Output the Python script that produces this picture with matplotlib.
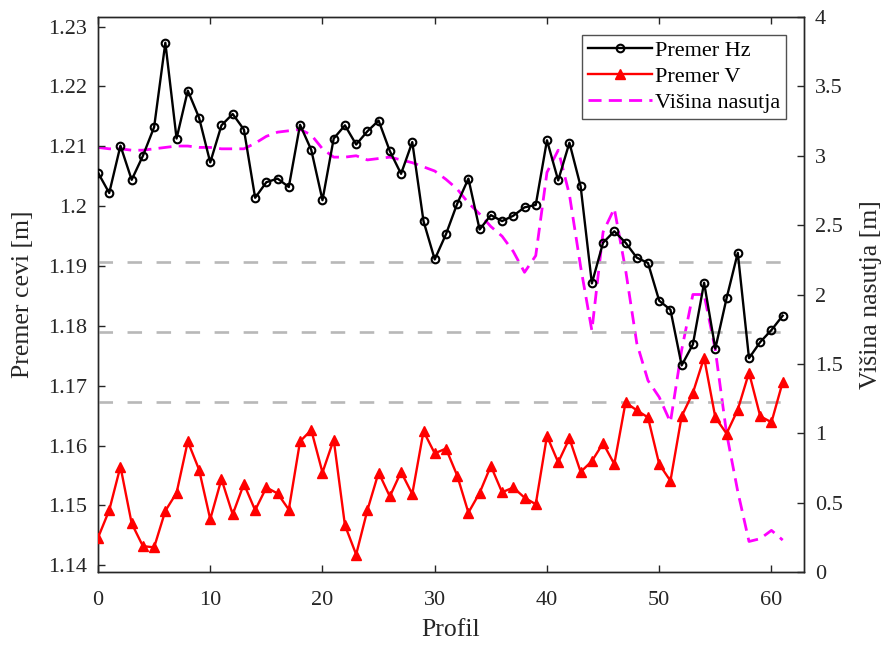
import numpy as np
import matplotlib
matplotlib.use('Agg')
import matplotlib.pyplot as plt
from matplotlib.ticker import FuncFormatter

plt.rcParams['font.family'] = ['Liberation Serif', 'DejaVu Serif']

# profil 0..61
profil = np.arange(62)

premer_hz = [
    1.2056, 1.2022, 1.2101, 1.2044, 1.2084, 1.2132, 1.2273, 1.2113, 1.2193, 1.2148,
    1.2073, 1.2135, 1.2154, 1.2128, 1.2014, 1.2040, 1.2046, 1.2032, 1.2136, 1.2094,
    1.2010, 1.2113, 1.2135, 1.2103, 1.2125, 1.2143, 1.2092, 1.2054, 1.2107, 1.1975,
    1.1911, 1.1953, 1.2004, 1.2046, 1.1961, 1.1985, 1.1975, 1.1984, 1.1998, 1.2002,
    1.2110, 1.2043, 1.2106, 1.2033, 1.1871, 1.1939, 1.1958, 1.1939, 1.1914, 1.1905,
    1.1842, 1.1827, 1.1734, 1.1769, 1.1872, 1.1762, 1.1846, 1.1922, 1.1746, 1.1773,
    1.1793, 1.1817,
]

premer_v = [
    1.1446, 1.1492, 1.1565, 1.1470, 1.1432, 1.1430, 1.1491, 1.1521, 1.1607, 1.1560,
    1.1477, 1.1544, 1.1485, 1.1536, 1.1492, 1.1530, 1.1520, 1.1493, 1.1607, 1.1626,
    1.1555, 1.1610, 1.1467, 1.1418, 1.1492, 1.1555, 1.1515, 1.1556, 1.1519, 1.1624,
    1.1587, 1.1595, 1.1550, 1.1488, 1.1521, 1.1566, 1.1522, 1.1530, 1.1513, 1.1502,
    1.1616, 1.1572, 1.1612, 1.1556, 1.1574, 1.1604, 1.1569, 1.1672, 1.1659, 1.1647,
    1.1569, 1.1541, 1.1649, 1.1688, 1.1747, 1.1647, 1.1620, 1.1660, 1.1722, 1.1649,
    1.1639, 1.1706,
]

visina_nasutja = [
    3.06, 3.05, 3.05, 3.04, 3.04, 3.05, 3.06, 3.07, 3.07, 3.06,
    3.06, 3.05, 3.05, 3.05, 3.09, 3.14, 3.17, 3.18, 3.19, 3.15,
    3.05, 2.99, 2.99, 3.00, 2.97, 2.98, 2.99, 2.97, 2.95, 2.92,
    2.89, 2.83, 2.76, 2.66, 2.58, 2.49, 2.42, 2.31, 2.16, 2.28,
    2.88, 3.04, 2.72, 2.20, 1.74, 2.45, 2.62, 2.18, 1.65, 1.38,
    1.26, 1.08, 1.60, 2.00, 2.00, 1.60, 1.00, 0.58, 0.22, 0.24,
    0.30, 0.23,
]

# mejne vrednosti premera
meje = [1.1907, 1.1790, 1.1672]

fig = plt.figure(figsize=(8.84, 6.45), dpi=100)
ax = fig.add_axes([98 / 884, 1 - 572 / 645, (804 - 98) / 884, (572 - 17) / 645])
ax2 = ax.twinx()

# leva os nad desno, da sta crni in rdeci niz nad magenta crto
ax.set_zorder(ax2.get_zorder() + 1)
ax.patch.set_visible(False)

for m in meje:
    ax.plot([profil[0], profil[-1]], [m, m], color=(0.72, 0.72, 0.72),
            linestyle=(0, (5.5, 5.5)), linewidth=1.9, zorder=1)

l_hz, = ax.plot(profil, premer_hz, color='black', linewidth=1.7, marker='o',
                markersize=5.5, markerfacecolor='none', markeredgecolor='black',
                markeredgewidth=1.5, label='Premer Hz', zorder=3)
l_v, = ax.plot(profil, premer_v, color='red', linewidth=1.7, marker='^',
               markersize=7, markerfacecolor='red', markeredgecolor='red',
               label='Premer V', zorder=3)
l_n, = ax2.plot(profil, visina_nasutja, color=(1, 0, 1), linewidth=2,
                linestyle=(0, (4.7, 2.6)), label='Višina nasutja')

ax.set_xlim(0, 62.9)
ax.set_ylim(1.13888, 1.2316)
ax2.set_ylim(0, 4)

ax.set_xticks(np.arange(0, 61, 10))
ax.set_yticks(np.arange(1.14, 1.2305, 0.01))
ax.yaxis.set_major_formatter(FuncFormatter(lambda v, p: f'{v:.2f}'.rstrip('0')))
ax2.set_yticks(np.arange(0, 4.01, 0.5))
ax2.yaxis.set_major_formatter(FuncFormatter(lambda v, p: f'{v:g}'))

ax.tick_params(axis='x', direction='in', top=True, length=5, width=1,
               labelsize=16, pad=14, colors='#262626')
ax.tick_params(axis='y', direction='in', length=5, width=1, labelsize=16,
               pad=8, colors='#262626')
ax2.tick_params(axis='y', direction='in', length=5, width=1, labelsize=16,
                pad=8, colors='#262626')
ax2.tick_params(axis='x', top=False, bottom=False)

for a in (ax, ax2):
    for s in a.spines.values():
        s.set_color('#262626')
        s.set_linewidth(1)

ax.set_xlabel('Profil', fontsize=18.5, color='#262626', labelpad=6)
ax.set_ylabel('Premer cevi [m]', fontsize=18.5, color='#262626', labelpad=10)
ax2.set_ylabel('Višina nasutja [m]', fontsize=18.5, color='#262626', labelpad=12)

leg = ax.legend(handles=[l_hz, l_v, l_n], loc='upper right', fontsize=16,
                frameon=True, fancybox=False, borderpad=0.25, labelspacing=0.25,
                handlelength=2.9, handletextpad=0.15, borderaxespad=0.8)
leg.get_frame().set_edgecolor('#262626')
leg.get_frame().set_linewidth(1)

fig.savefig('out.png', dpi=100)
